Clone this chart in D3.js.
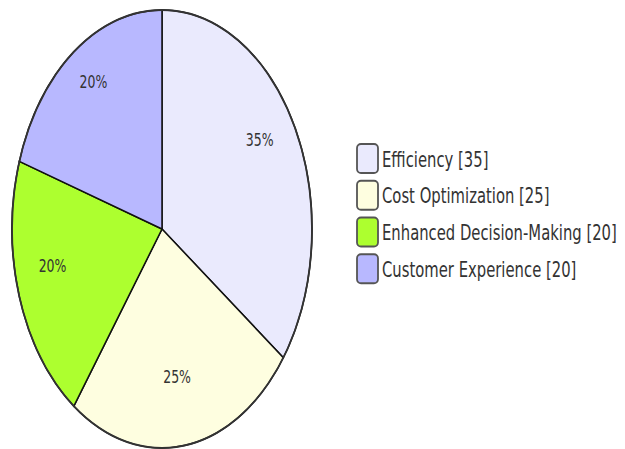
<!DOCTYPE html>
<html lang="en">
<head>
<meta charset="utf-8">
<title>Pie</title>
<script src="https://cdn.jsdelivr.net/npm/d3@7"></script>
<style>
  body { margin: 0; background: #fff; }
  text { font-family: "DejaVu Sans", sans-serif; fill: #333; }
</style>
</head>
<body>
<div id="chart"></div>
<script>
// chart values
var labels = ["Efficiency", "Cost Optimization", "Enhanced Decision-Making", "Customer Experience"];
var values = [35, 25, 20, 20];
var colors = ["#eaeafd", "#fefee0", "#adff2f", "#b8b8ff"];

var w = 625, h = 449;
var cx = 162, cy = 229;
var r = 150, sy = 219 / 150;   // picture is stretched vertically

var svg = d3.select("#chart").append("svg")
  .attr("width", w)
  .attr("height", h);

var data = labels.map(function(d, i) { return { label: d, value: values[i], color: colors[i] }; });
var total = d3.sum(values);

var pie = d3.pie().sort(null).value(function(d) { return d.value; });
var arc = d3.arc().innerRadius(0).outerRadius(r);
var labelArc = d3.arc().innerRadius(r * 0.75).outerRadius(r * 0.75);

var arcs = pie(data);

var pieG = svg.append("g")
  .attr("transform", "translate(" + cx + "," + cy + ") scale(1," + sy + ")");

pieG.selectAll("path.slice")
  .data(arcs)
  .enter().append("path")
  .attr("class", "slice")
  .attr("d", arc)
  .attr("fill", function(d) { return d.data.color; })
  .attr("stroke", "#111")
  .attr("stroke-width", 1.5)
  .attr("vector-effect", "non-scaling-stroke");

// outer rim
pieG.append("circle")
  .attr("r", r)
  .attr("fill", "none")
  .attr("stroke", "#333")
  .attr("stroke-width", 1.8)
  .attr("vector-effect", "non-scaling-stroke");

// percentages
svg.selectAll("text.pct")
  .data(arcs)
  .enter().append("text")
  .attr("class", "pct")
  .attr("transform", function(d) {
    var c = labelArc.centroid(d);
    return "translate(" + (cx + c[0] - 2.5) + "," + (cy + c[1] * sy - 14) + ") scale(1,1.45)";
  })
  .attr("text-anchor", "middle")
  .attr("dominant-baseline", "central")
  .style("font-size", "12.5px")
  .text(function(d) { return Math.round(d.data.value / total * 100) + "%"; });

// legend
var legY = d3.scaleBand().domain(labels).range([144, 291]);
var leg = svg.selectAll("g.leg")
  .data(data)
  .enter().append("g")
  .attr("class", "leg");

leg.append("rect")
  .attr("x", 357)
  .attr("y", function(d) { return legY(d.label); })
  .attr("width", 21)
  .attr("height", 29)
  .attr("rx", 4)
  .attr("fill", function(d) { return d.color; })
  .attr("stroke", "#555")
  .attr("stroke-width", 1.8);

var legText = leg.append("text")
  .attr("text-anchor", "start")
  .attr("dominant-baseline", "central")
  .style("font-size", "13px")
  .text(function(d) { return d.label + " [" + d.value + "]"; });

var longest = d3.max(legText.nodes(), function(n) { return n.getComputedTextLength(); });
var sx = 235 / longest;
legText.attr("transform", function(d) {
  return "translate(382," + (legY(d.label) + 15) + ") scale(" + sx + ",1.65)";
});
</script>
</body>
</html>
